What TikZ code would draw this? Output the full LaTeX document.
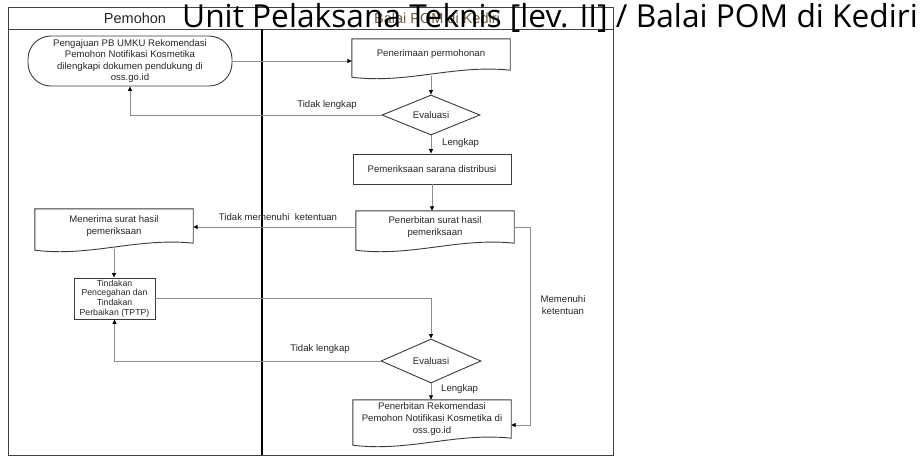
\documentclass[tikz,border=0pt]{standalone}
\usepackage{fontspec}
\setmainfont{Liberation Sans}
\newfontfamily\titlefont{Open Sans}
\usetikzlibrary{shapes.geometric,arrows.meta,calc}
\definecolor{conn}{HTML}{8C8C8C}
\definecolor{edge}{HTML}{3A3A3A}
\definecolor{hdrtwo}{HTML}{6E5A3C}
\newcommand\nodefont{\fontsize{9.6}{11.6}\selectfont}
\newcommand\smallnodefont{\fontsize{8.7}{9.8}\selectfont}
\newcommand\docoutline[1]{%
  \draw[docline] (#1.north west) -- (#1.north east) -- (#1.south east)
    .. controls ($(#1.south east)+(-55,-6)$) and ($(#1.south west)+(55,14)$) ..
    ($(#1.south west)+(0,7)$) -- cycle;}
\begin{document}
\begin{tikzpicture}[x=1pt,y=-1pt,
  lane/.style={draw=black!75, line width=1pt},
  divider/.style={draw=black, line width=1.2pt},
  docline/.style={draw=edge, line width=0.9pt},
  docbox/.style={rectangle, draw=none, inner sep=0pt, minimum width=158pt, align=center, font=\nodefont, text=black!85},
  procbox/.style={rectangle, draw=edge, line width=0.9pt, inner sep=0pt, align=center, font=\nodefont, text=black!85},
  term/.style={rectangle, rounded corners=23pt, draw=edge, line width=0.9pt, inner sep=0pt, minimum width=204pt, minimum height=50pt, align=center, font=\nodefont, text=black!85},
  decision/.style={diamond, aspect=2.4, draw=edge, line width=0.9pt, inner sep=1pt, align=center, font=\nodefont, text=black!85},
  flow/.style={draw=conn, line width=0.8pt, -{Triangle[length=4.5pt,width=4pt,color=black]}},
  plain/.style={draw=conn, line width=0.8pt},
  lbl/.style={inner sep=0pt, align=center, font=\nodefont, text=black!85},
  hdr/.style={inner sep=0pt, font=\fontsize{14.5}{16}\selectfont}
]
\useasboundingbox (0,0) rectangle (923,456);

% lanes
\draw[lane] (8,7) rectangle (613,455);
\draw[lane] (8,29) -- (613,29);
\draw[divider] (262,29) -- (262,455);
\node[hdr, text=black!85] (h1) at (135,18) {Pemohon};
\node[hdr, text=hdrtwo] (h2) at (437,18) {Balai POM di Kediri};

% nodes
\node[term] (T1) at (130,61) {Pengajuan PB UMKU Rekomendasi\\Pemohon Notifikasi Kosmetika\\dilengkapi dokumen pendukung di\\oss.go.id};
\node[docbox, minimum height=31pt] (D1) at (431,54.5) {Penerimaan permohonan};
\docoutline{D1}
\node[decision, minimum width=98pt, minimum height=40pt] (E1) at (431,115) {Evaluasi};
\node[procbox, minimum width=158pt, minimum height=30pt] (P1) at (432,169) {Pemeriksaan sarana distribusi};
\node[docbox, minimum height=32pt] (D2) at (435,227) {Penerbitan surat hasil\\pemeriksaan};
\docoutline{D2}
\node[docbox, minimum height=34pt] (D3) at (114,226) {Menerima surat hasil\\pemeriksaan};
\docoutline{D3}
\node[procbox, minimum width=81pt, minimum height=41pt, font=\smallnodefont] (TP) at (114.5,298.5) {Tindakan\\Pencegahan dan\\Tindakan\\Perbaikan (TPTP)};
\node[decision, minimum width=100pt, minimum height=44pt] (E2) at (431,361) {Evaluasi};
\node[docbox, minimum height=38pt] (D4) at (432,419) {Penerbitan Rekomendasi\\Pemohon Notifikasi Kosmetika di\\oss.go.id};
\docoutline{D4}

% connectors
\coordinate (r1) at (530,229);
\coordinate (r2) at (530,425);
\draw[flow] (T1.east) -- (T1.east -| D1.west);
\draw[flow, shorten <=6pt] (D1.south) -- (E1.north);
\draw[flow] (E1.west) -| (T1.south);
\draw[flow] (E1.south) -- (E1.south |- P1.north);
\draw[flow] (P1.south) -- (P1.south |- D2.north);
\draw[flow] (D2.west) -- (D2.west -| D3.east);
\draw[flow] (D2.east) -- (D2.east -| r1) -- (r2) -- (r2 -| D4.east);
\draw[flow, shorten <=6pt] (D3.south) -- (D3.south |- TP.north);
\draw[flow] (TP.east) -| (E2.north);
\draw[flow] (E2.west) -| (TP.south);
\draw[flow] (E2.south) -- (E2.south |- D4.north);

% labels
\node[lbl] (l1) at (327,105) {Tidak lengkap};
\node[lbl, anchor=west] (l2) at (442,143) {Lengkap};
\node[lbl] (l3) at (278,217) {Tidak memenuhi\ \ ketentuan};
\node[lbl] (l4) at (563,305) {Memenuhi\\ketentuan};
\node[lbl] (l5) at (320,349) {Tidak lengkap};
\node[lbl, anchor=west] (l6) at (441,389) {Lengkap};

% overlaid title
\node[anchor=base west, inner sep=0pt, font=\titlefont\fontsize{31.7}{34}\selectfont] (title) at (182,27) {Unit Pelaksana Teknis [lev. II] / Balai POM di Kediri};
\end{tikzpicture}
\end{document}
